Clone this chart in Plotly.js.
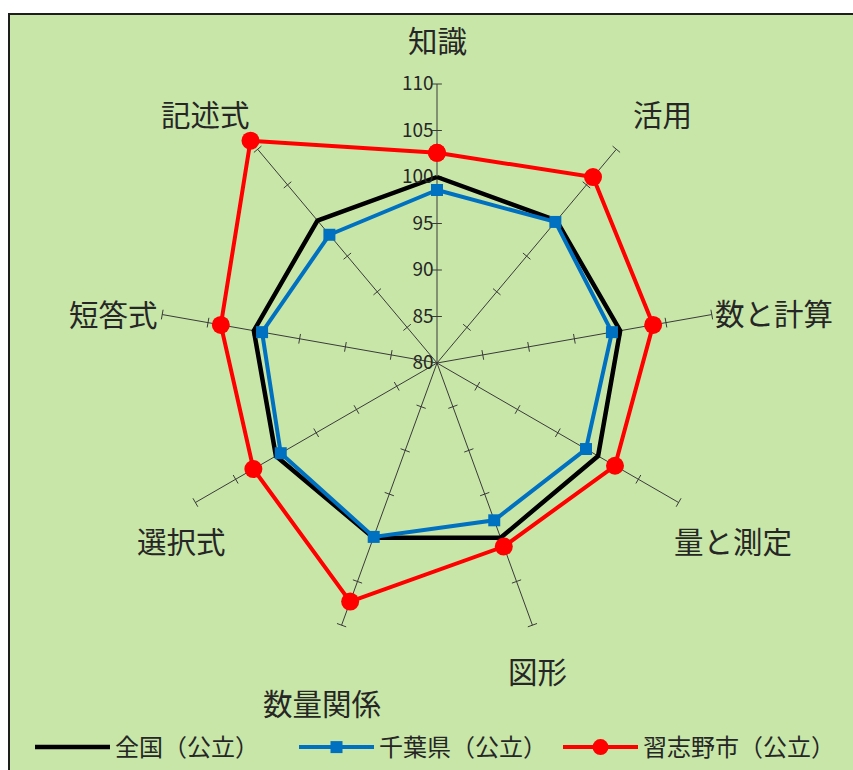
<!DOCTYPE html>
<html><head><meta charset="utf-8">
<script src="https://cdn.plot.ly/plotly-3.0.1.min.js"></script>
<style>
html,body{margin:0;padding:0;background:#fff;width:853px;height:770px;overflow:hidden;}
#frame{position:absolute;left:8px;top:13px;width:900px;height:800px;border-left:2px solid #1e1e1e;border-top:2px solid #1e1e1e;background:#C8E6A8;}
#chart{position:absolute;left:10px;top:15px;width:843px;height:755px;}
</style></head><body>
<div id="frame"></div><div id="chart"></div>
<script>
// ---- data ----
const categories = ['知識','活用','数と計算','量と測定','図形','数量関係','選択式','短答式','記述式'];
const national  = [100, 100, 100, 100, 100, 100, 100, 100, 100];
const chiba     = [98.6, 99.8, 99.1, 98.5, 98.0, 99.9, 99.4, 99.1, 98.0];
const narashino = [102.6, 106.1, 103.6, 102.1, 101.0, 107.3, 102.8, 103.6, 111.2];
const seriesNames = ['全国（公立）', '千葉県（公立）', '習志野市（公立）'];
const radialTicks = [80, 85, 90, 95, 100, 105, 110];

// ---- layout config (positions in page px) ----
const W = 843, H = 755, OX = 10, OY = 15;
const labelPos = [[437.5,39],[662,113],[774,312],[733,540],[537.5,670],[321.5,702],[181,540],[113,312.5],[205,113]];
const center = [437, 363], pxPerUnit = 9.3, rangeMax = 112;

const rMin = radialTicks[0], rMax = radialTicks[radialTicks.length - 1];
const outerR = (rangeMax - rMin) * pxPerUnit;
const cx = center[0] - OX, cy = H - (center[1] - OY);

const close = a => a.concat([a[0]]);
const thetaClosed = close(categories);

// spokes
const spokeR = [], spokeT = [];
categories.forEach(c => { spokeR.push(rMin, rMax, null); spokeT.push(c, c, c); });
// spoke ticks
const tickR = [], tickT = [], tickA = [];
categories.forEach((c, i) => {
  radialTicks.slice(1).forEach(v => { tickR.push(v); tickT.push(c); tickA.push(i * 360 / categories.length); });
});

const font = '"Noto Sans CJK JP", "Noto Sans", sans-serif';

const traces = [
  {type:'scatterpolar', r:spokeR, theta:spokeT, mode:'lines', line:{color:'#3a3a3a', width:1}, showlegend:false, hoverinfo:'skip', cliponaxis:false},
  {type:'scatterpolar', r:tickR, theta:tickT, mode:'markers', marker:{symbol:'line-ew', size:7, angle:tickA, line:{color:'#3a3a3a', width:1}}, showlegend:false, hoverinfo:'skip', cliponaxis:false},
  {type:'scatterpolar', name:seriesNames[0], r:close(national), theta:thetaClosed, mode:'lines', line:{color:'#000000', width:4.5}, cliponaxis:false},
  {type:'scatterpolar', name:seriesNames[1], r:close(chiba), theta:thetaClosed, mode:'lines+markers', line:{color:'#0070C0', width:4}, marker:{symbol:'square', size:12, color:'#0070C0'}, cliponaxis:false},
  {type:'scatterpolar', name:seriesNames[2], r:close(narashino), theta:thetaClosed, mode:'lines+markers', line:{color:'#FF0000', width:4}, marker:{symbol:'circle', size:18, color:'#FF0000'}, cliponaxis:false}
];

const annotations = categories.map((c, i) => ({
  text: c, xref:'paper', yref:'paper',
  x: (labelPos[i][0] - OX) / W, y: 1 - (labelPos[i][1] - OY) / H,
  xanchor:'center', yanchor:'middle', showarrow:false,
  font:{family:font, size:29.5, color:'#262626'}
}));

const layout = {
  width:W, height:H, autosize:false,
  margin:{l:0, r:0, t:0, b:0, pad:0},
  paper_bgcolor:'rgba(0,0,0,0)', plot_bgcolor:'rgba(0,0,0,0)',
  font:{family:font, color:'#262626'},
  polar:{
    domain:{x:[(cx - outerR)/W, (cx + outerR)/W], y:[(cy - outerR)/H, (cy + outerR)/H]},
    bgcolor:'rgba(0,0,0,0)',
    angularaxis:{type:'category', categoryorder:'array', categoryarray:categories, direction:'clockwise', rotation:90,
      showgrid:false, showline:false, showticklabels:false, ticks:''},
    radialaxis:{range:[rMin, rangeMax], tickvals:radialTicks, ticktext:radialTicks.map(String), angle:90, side:'counterclockwise',
      showgrid:false, showline:false, ticks:'', tickangle:90, tickfont:{family:font, size:19, color:'#262626'}}
  },
  showlegend:true,
  legend:{orientation:'h', x:20/W, xanchor:'left', y:0, yanchor:'bottom', bgcolor:'rgba(0,0,0,0)',
    font:{family:font, size:24, color:'#262626'}, itemwidth:75, entrywidth:174},
  annotations:annotations
};

Plotly.newPlot('chart', traces, layout, {staticPlot:true, displayModeBar:false});
</script>
</body></html>
